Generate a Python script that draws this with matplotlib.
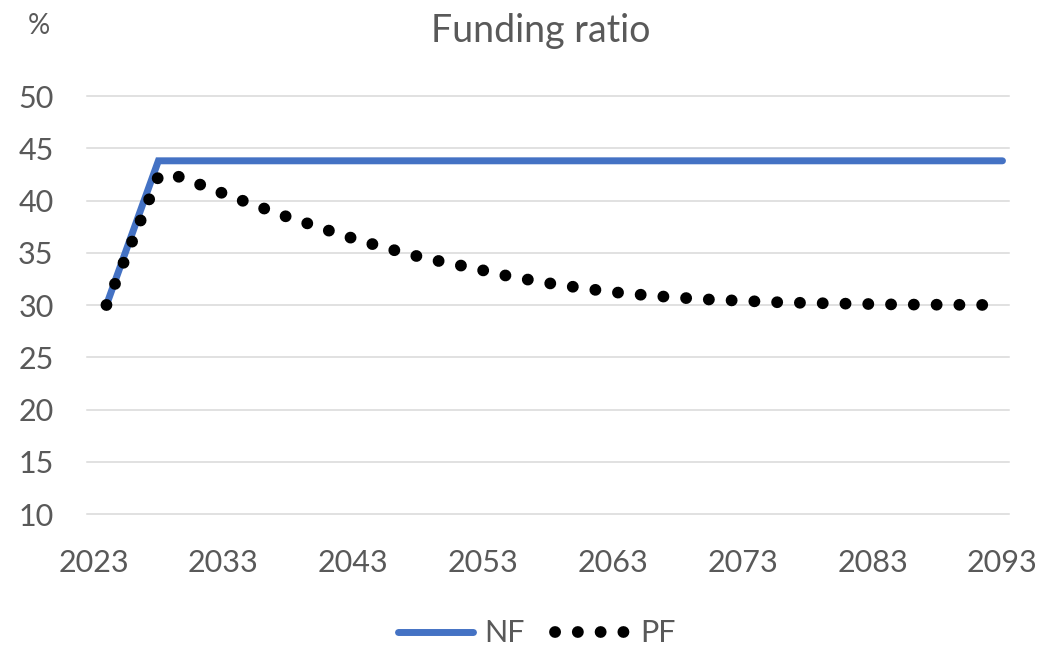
import matplotlib
matplotlib.use("Agg")
import matplotlib.pyplot as plt
from matplotlib.lines import Line2D

# Funding ratio, % (NF vs PF), 2024-2093
nf_years = [2024, 2028, 2093]
nf_values = [30.0, 43.8, 43.8]

pf_years = [2024, 2028, 2029, 2030, 2032, 2034, 2036, 2038, 2040, 2042, 2044,
            2046, 2048, 2050, 2052, 2055, 2058, 2061, 2064, 2067, 2070, 2073,
            2076, 2080, 2085, 2093]
pf_values = [30.0, 42.3, 42.5, 42.1, 41.15, 40.2, 39.3, 38.4, 37.6, 36.75, 36.0,
             35.3, 34.65, 34.1, 33.6, 32.75, 32.1, 31.55, 31.1, 30.8, 30.55, 30.4,
             30.25, 30.15, 30.05, 30.0]

x_ticks = [2023, 2033, 2043, 2053, 2063, 2073, 2083, 2093]
y_ticks = [10, 15, 20, 25, 30, 35, 40, 45, 50]

grey = "#595959"
blue = "#4472C4"
dots = (0, (0.01, 1.92))
plt.rcParams["font.family"] = ["Lato", "DejaVu Sans"]

fig = plt.figure(figsize=(10.39, 6.51), dpi=100)
ax = fig.add_axes([0.0837, 0.2104, 0.8874, 0.6421])

ax.plot(nf_years, nf_values, color=blue, lw=5, solid_capstyle="round",
        solid_joinstyle="miter", zorder=3)
ax.plot(pf_years, pf_values, color="black", lw=8.5, linestyle=dots,
        dash_capstyle="round", zorder=4)

ax.set_xlim(2022.5, 2093.5)
ax.set_ylim(10, 50)
ax.set_xticks(x_ticks)
ax.set_yticks(y_ticks)
ax.tick_params(length=0, labelsize=22, colors=grey)
ax.tick_params(axis="y", pad=24)
ax.tick_params(axis="x", pad=25)

ax.grid(axis="y", color="#D9D9D9", lw=1.1)
for gl in ax.get_ygridlines():
    gl.set_clip_on(False)
ax.set_axisbelow(True)
for s in ax.spines.values():
    s.set_visible(False)

fig.text(0.52, 0.953, "Funding ratio", ha="center", va="center",
         fontsize=27, color=grey)
fig.text(0.037, 0.96, "%", ha="center", va="center", fontsize=20, color=grey)

handles = [
    Line2D([], [], color=blue, lw=5, solid_capstyle="round"),
    Line2D([], [], color="black", lw=8.5, linestyle=dots, dash_capstyle="round"),
]
fig.legend(handles, ["NF", "PF"], loc="center", bbox_to_anchor=(0.517, 0.027),
           ncol=2, frameon=False, fontsize=22, labelcolor=grey,
           handlelength=2.45, handletextpad=0.35, columnspacing=1.0)

fig.savefig("out.png", dpi=100)
